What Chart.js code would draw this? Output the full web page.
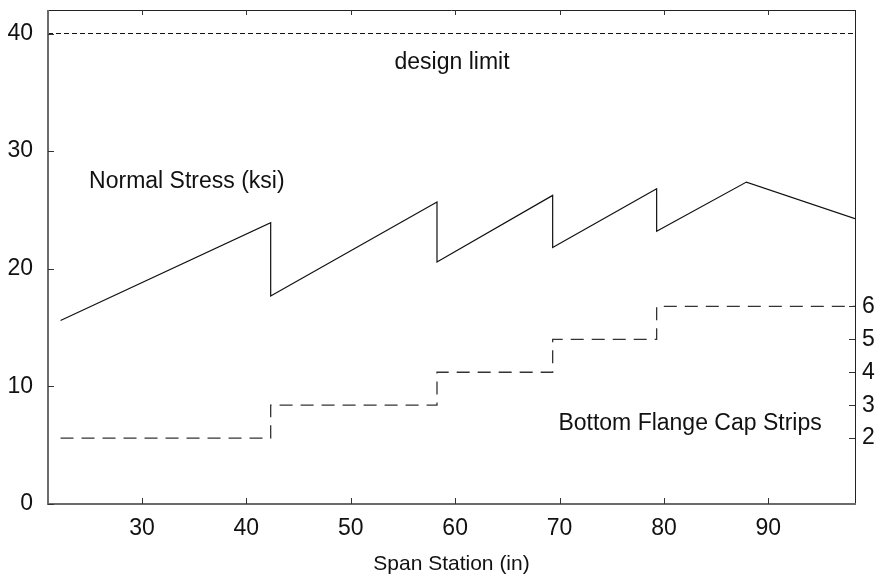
<!DOCTYPE html>
<html>
<head>
<meta charset="utf-8">
<script src="https://cdn.jsdelivr.net/npm/chart.js@4.4.0/dist/chart.umd.min.js"></script>
<style>
  html, body { margin: 0; padding: 0; background: #fff; }
  #wrap { width: 890px; height: 577px; }
</style>
</head>
<body>
<div id="wrap"><canvas id="myChart"></canvas></div>
<script>
'use strict';

// normal stress (ksi) along the span, drops where a new cap strip starts
let stressStations = [22.2, 42.33, 42.33, 58.26, 58.26, 69.34, 69.34, 79.3, 79.3, 87.9, 98.3];
let stressValues = [15.6, 23.92, 17.69, 25.67, 20.58, 26.24, 21.8, 26.81, 23.18, 27.37, 24.26];

// number of bottom flange cap strips
let stripStations = [22.2, 42.33, 58.26, 69.34, 79.3, 98.3];
let stripCounts = [2, 3, 4, 5, 6, 6];

let designLimit = 40;
let xTicks = [30, 40, 50, 60, 70, 80, 90];
let yTicks = [0, 10, 20, 30, 40];
let stripTicks = [2, 3, 4, 5, 6];

// text written inside the plot, placed in data units
let notes = [
  {text: 'design limit', x: 59.7, y: 37.5},
  {text: 'Normal Stress (ksi)', x: 34.3, y: 27.4},
  {text: 'Bottom Flange Cap Strips', x: 82.5, y: 6.8}
];

let fontFamily = '"Liberation Sans", Arial, sans-serif';
let fontSize = 23;

function toPoints(xs, ys) {
  let pts = [];
  for (let i = 0; i < xs.length; i++) {
    pts.push({x: xs[i], y: ys[i]});
  }
  return pts;
}

function fixedTicks(list) {
  return function (s) {
    s.ticks = list.map(function (v) { return {value: v}; });
  };
}

// box around the plot with short inward ticks, plus the notes
let framePlugin = {
  id: 'frame',
  afterDatasetsDraw(chart) {
    let ctx = chart.ctx;
    let a = chart.chartArea;
    let x = chart.scales.x;
    let y = chart.scales.y;
    let y2 = chart.scales.y2;
    ctx.save();

    ctx.lineCap = 'butt';
    ctx.strokeStyle = '#222';
    ctx.lineWidth = 1;
    ctx.beginPath();
    ctx.moveTo(a.left, a.top + 0.5);
    ctx.lineTo(a.right, a.top + 0.5);
    ctx.moveTo(a.right + 0.5, a.top);
    ctx.lineTo(a.right + 0.5, a.bottom);
    ctx.stroke();

    ctx.strokeStyle = '#6b6b6b';
    ctx.lineWidth = 2;
    ctx.beginPath();
    ctx.moveTo(a.left, a.top);
    ctx.lineTo(a.left, a.bottom);
    ctx.lineTo(a.right + 1, a.bottom);
    ctx.stroke();

    ctx.strokeStyle = '#333';
    ctx.lineWidth = 1;
    ctx.beginPath();
    xTicks.forEach(function (v) {
      let px = Math.round(x.getPixelForValue(v)) + 0.5;
      ctx.moveTo(px, a.bottom);
      ctx.lineTo(px, a.bottom - 6);
      ctx.moveTo(px, a.top);
      ctx.lineTo(px, a.top + 5);
    });
    yTicks.forEach(function (v) {
      let py = Math.round(y.getPixelForValue(v)) + 0.5;
      ctx.moveTo(a.left, py);
      ctx.lineTo(a.left + 6, py);
    });
    stripTicks.forEach(function (v) {
      let py = Math.round(y2.getPixelForValue(v)) + 0.5;
      ctx.moveTo(a.right, py);
      ctx.lineTo(a.right - 6, py);
    });
    ctx.stroke();

    ctx.fillStyle = '#111';
    ctx.font = fontSize + 'px ' + fontFamily;
    ctx.textAlign = 'center';
    ctx.textBaseline = 'middle';
    notes.forEach(function (n) {
      ctx.fillText(n.text, x.getPixelForValue(n.x), y.getPixelForValue(n.y));
    });
    ctx.restore();
  }
};

let ctx = document.getElementById('myChart').getContext('2d');
let myChart = new Chart(ctx, {
  type: 'line',
  data: {
    datasets: [{
      label: 'Normal Stress (ksi)',
      data: toPoints(stressStations, stressValues),
      borderColor: '#111',
      borderWidth: 1.2,
      pointRadius: 0,
      tension: 0,
      yAxisID: 'y'
    }, {
      label: 'Bottom Flange Cap Strips',
      data: toPoints(stripStations, stripCounts),
      borderColor: '#333',
      borderWidth: 1.3,
      borderDash: [13, 8],
      pointRadius: 0,
      stepped: 'before',
      yAxisID: 'y2'
    }, {
      label: 'design limit',
      data: [{x: 21, y: designLimit}, {x: 98.3, y: designLimit}],
      borderColor: '#111',
      borderWidth: 1,
      borderDash: [5, 3],
      pointRadius: 0,
      yAxisID: 'y'
    }]
  },
  options: {
    responsive: true,
    maintainAspectRatio: false,
    animation: false,
    events: [],
    layout: { padding: { top: 10, left: 0, right: 0, bottom: 0 } },
    plugins: {
      legend: { display: false },
      tooltip: { enabled: false }
    },
    scales: {
      x: {
        type: 'linear',
        min: 21,
        max: 98.3,
        afterBuildTicks: fixedTicks(xTicks),
        afterFit: function (s) { s.height = 73; s.paddingLeft = 0; s.paddingRight = 0; },
        grid: { display: false, drawTicks: false },
        border: { display: false },
        ticks: {
          padding: 11,
          color: '#111',
          font: { family: fontFamily, size: fontSize }
        },
        title: {
          display: true,
          text: 'Span Station (in)',
          color: '#111',
          padding: { top: 0, bottom: 0 },
          font: { family: fontFamily, size: 21 }
        }
      },
      y: {
        position: 'left',
        min: 0,
        max: 42,
        afterBuildTicks: fixedTicks(yTicks),
        afterFit: function (s) { s.width = 48; s.paddingTop = 0; s.paddingBottom = 0; },
        grid: { display: false, drawTicks: false },
        border: { display: false },
        ticks: {
          padding: 15,
          color: '#111',
          font: { family: fontFamily, size: fontSize }
        }
      },
      y2: {
        position: 'right',
        min: 0,
        max: 15,
        afterBuildTicks: fixedTicks(stripTicks),
        afterFit: function (s) { s.width = 35; s.paddingTop = 0; s.paddingBottom = 0; },
        grid: { display: false, drawTicks: false },
        border: { display: false },
        ticks: {
          padding: 7,
          color: '#111',
          font: { family: fontFamily, size: fontSize }
        }
      }
    }
  },
  plugins: [framePlugin]
});
</script>
</body>
</html>
